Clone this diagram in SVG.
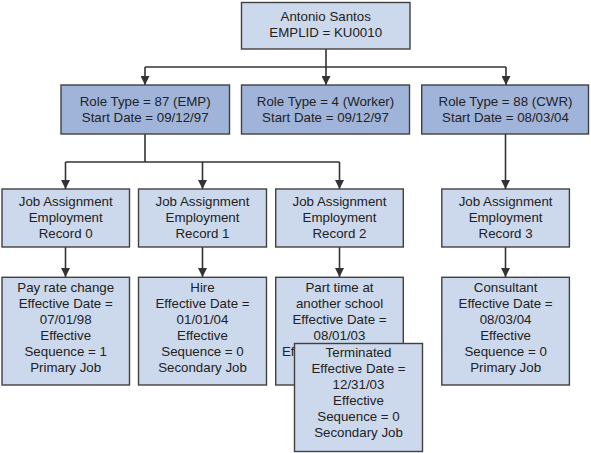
<svg xmlns="http://www.w3.org/2000/svg" width="591" height="453" viewBox="0 0 591 453">
<defs>
<marker id="arr" markerUnits="userSpaceOnUse" markerWidth="9" markerHeight="9" viewBox="0 0 9 9" refX="9" refY="4.5" orient="auto">
<path d="M0,0 L9,4.5 L0,9 Z" fill="#333333"/>
</marker>
</defs>
<style>
text{font-family:"Liberation Sans",Arial,sans-serif;font-size:13.3px;fill:#222222;text-anchor:middle}
.light{fill:#CCD8EB;stroke:#404040;stroke-width:1.4}
.dark{fill:#A0B4DA;stroke:#404040;stroke-width:1.4}
.c{fill:none;stroke:#333333;stroke-width:1.6}
.a{marker-end:url(#arr)}
</style>
<rect width="591" height="453" fill="#ffffff"/>
<g id="connectors">
<path class="c" d="M326,49 V67"/>
<path class="c" d="M145,67 H506"/>
<path class="c a" d="M145,67 V85"/>
<path class="c a" d="M326,67 V85"/>
<path class="c a" d="M506,67 V85"/>
<path class="c" d="M145,134 V162"/>
<path class="c" d="M65.5,162 H339.5"/>
<path class="c a" d="M65.5,162 V189"/>
<path class="c a" d="M202.5,162 V189"/>
<path class="c a" d="M339.5,162 V189"/>
<path class="c a" d="M505.5,134 V189"/>
<path class="c a" d="M65.5,247 V277"/>
<path class="c a" d="M202.5,247 V277"/>
<path class="c a" d="M339.5,247 V277"/>
<path class="c a" d="M505.5,247 V277"/>
</g>
<g id="person">
<rect class="light" x="241.5" y="2.5" width="168.5" height="46.5"/>
<text x="325.7" y="21">Antonio Santos</text>
<text x="325.7" y="37">EMPLID = KU0010</text>
</g>
<g id="role-emp">
<rect class="dark" x="61" y="85" width="168.5" height="49"/>
<text x="145.2" y="105.5">Role Type = 87 (EMP)</text>
<text x="145.2" y="121.5">Start Date = 09/12/97</text>
</g>
<g id="role-worker">
<rect class="dark" x="241.5" y="85" width="168" height="49"/>
<text x="325.5" y="105.5">Role Type = 4 (Worker)</text>
<text x="325.5" y="121.5">Start Date = 09/12/97</text>
</g>
<g id="role-cwr">
<rect class="dark" x="421.7" y="85" width="166.8" height="49"/>
<text x="505.5" y="105.5">Role Type = 88 (CWR)</text>
<text x="505.5" y="121.5">Start Date = 08/03/04</text>
</g>
<g id="job0">
<rect class="light" x="2" y="189" width="127.5" height="58"/>
<text x="65.7" y="206">Job Assignment</text>
<text x="65.7" y="222">Employment</text>
<text x="65.7" y="238">Record 0</text>
</g>
<g id="job1">
<rect class="light" x="138.5" y="189" width="128" height="58"/>
<text x="202.5" y="206">Job Assignment</text>
<text x="202.5" y="222">Employment</text>
<text x="202.5" y="238">Record 1</text>
</g>
<g id="job2">
<rect class="light" x="275.7" y="189" width="127.6" height="58"/>
<text x="339.5" y="206">Job Assignment</text>
<text x="339.5" y="222">Employment</text>
<text x="339.5" y="238">Record 2</text>
</g>
<g id="job3">
<rect class="light" x="441.8" y="189" width="127.6" height="58"/>
<text x="505.6" y="206">Job Assignment</text>
<text x="505.6" y="222">Employment</text>
<text x="505.6" y="238">Record 3</text>
</g>
<g id="detail0">
<rect class="light" x="2" y="277.3" width="127.5" height="107.7"/>
<text x="65.7" y="292">Pay rate change</text>
<text x="65.7" y="308">Effective Date =</text>
<text x="65.7" y="324">07/01/98</text>
<text x="65.7" y="340">Effective</text>
<text x="65.7" y="356">Sequence = 1</text>
<text x="65.7" y="372">Primary Job</text>
</g>
<g id="detail1">
<rect class="light" x="138.5" y="277.3" width="128" height="107.7"/>
<text x="202.5" y="292">Hire</text>
<text x="202.5" y="308">Effective Date =</text>
<text x="202.5" y="324">01/01/04</text>
<text x="202.5" y="340">Effective</text>
<text x="202.5" y="356">Sequence = 0</text>
<text x="202.5" y="372">Secondary Job</text>
</g>
<g id="detail2">
<rect class="light" x="275.7" y="277.3" width="127.6" height="107.7"/>
<text x="339.5" y="292">Part time at</text>
<text x="339.5" y="308">another school</text>
<text x="339.5" y="324">Effective Date =</text>
<text x="339.5" y="340">08/01/03</text>
<text x="282" y="356" style="text-anchor:start">Ef</text>
</g>
<g id="detail2-terminated">
<rect class="light" x="294.5" y="343.5" width="128" height="108"/>
<text x="358.5" y="357">Terminated</text>
<text x="358.5" y="373">Effective Date =</text>
<text x="358.5" y="389">12/31/03</text>
<text x="358.5" y="405">Effective</text>
<text x="358.5" y="421">Sequence = 0</text>
<text x="358.5" y="437">Secondary Job</text>
</g>
<g id="detail3">
<rect class="light" x="441.8" y="277.3" width="127.6" height="107.7"/>
<text x="505.6" y="292">Consultant</text>
<text x="505.6" y="308">Effective Date =</text>
<text x="505.6" y="324">08/03/04</text>
<text x="505.6" y="340">Effective</text>
<text x="505.6" y="356">Sequence = 0</text>
<text x="505.6" y="372">Primary Job</text>
</g>
</svg>
